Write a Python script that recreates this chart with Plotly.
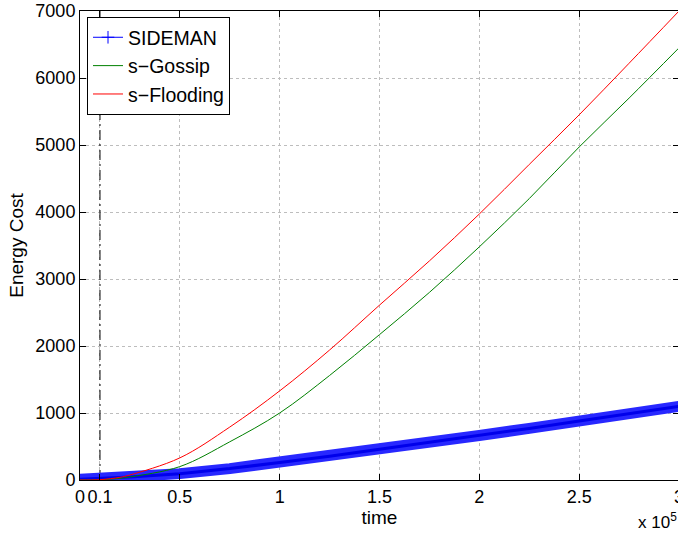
import plotly.graph_objects as go

# ---- data (time in raw units; axis shows x 10^5) ----
time_blue = [0, 25000, 50000, 75000, 100000, 125000, 150000, 175000, 200000, 225000, 250000, 275000, 300000]
sideman = [12, 45, 95, 170, 262, 355, 460, 560, 665, 770, 880, 990, 1100]

time_curves = [0, 10000, 20000, 25000, 50000, 75000, 100000, 125000, 150000, 175000, 200000, 225000, 250000, 275000, 300000]
s_gossip = [0, 3, 25, 45, 200, 570, 1000, 1560, 2170, 2800, 3480, 4200, 4970, 5700, 6450]
s_flooding = [0, 5, 40, 75, 330, 790, 1330, 1940, 2610, 3270, 3970, 4710, 5450, 6220, 7000]

threshold_time = 10000

x_tickvals = [0, 10000, 50000, 100000, 150000, 200000, 250000, 300000]
x_ticktext = ["0", "0.1", "0.5", "1", "1.5", "2", "2.5", "3"]
y_tickvals = [0, 1000, 2000, 3000, 4000, 5000, 6000, 7000]

FONT = "Liberation Sans, Arial, Helvetica, sans-serif"

fig = go.Figure()

# threshold line
fig.add_trace(go.Scatter(x=[threshold_time, threshold_time], y=[0, 7000], mode="lines",
                         line=dict(color="black", width=1, dash="10px,4px,2px,4px"),
                         showlegend=False, hoverinfo="skip"))

# SIDEMAN thick band
fig.add_trace(go.Scatter(x=time_blue, y=sideman, mode="lines",
                         line=dict(color="rgb(40,40,255)", width=11),
                         showlegend=False, cliponaxis=False))
fig.add_trace(go.Scatter(x=time_blue, y=sideman, mode="lines",
                         line=dict(color="rgb(0,0,235)", width=3),
                         showlegend=False))

fig.add_trace(go.Scatter(x=time_curves, y=s_gossip, mode="lines", line_shape="spline",
                         line=dict(color="#008000", width=1), showlegend=False))
fig.add_trace(go.Scatter(x=time_curves, y=s_flooding, mode="lines", line_shape="spline",
                         line=dict(color="#ff0000", width=1), showlegend=False))

# legend entries
fig.add_trace(go.Scatter(x=[None], y=[None], mode="lines+markers", name="SIDEMAN",
                         line=dict(color="blue", width=1),
                         marker=dict(symbol="cross-thin", size=9, color="blue",
                                     line=dict(color="blue", width=1))))
fig.add_trace(go.Scatter(x=[None], y=[None], mode="lines", name="s−Gossip",
                         line=dict(color="#008000", width=1)))
fig.add_trace(go.Scatter(x=[None], y=[None], mode="lines", name="s−Flooding",
                         line=dict(color="#ff0000", width=1)))

axis_common = dict(
    showline=True, linecolor="black", linewidth=1, mirror="ticks",
    ticks="inside", ticklen=6, tickcolor="black",
    showgrid=True, gridcolor="#bdbdbd", gridwidth=1, griddash="dot",
    zeroline=False, ticklabeloverflow="allow",
    tickfont=dict(family=FONT, size=18, color="black"),
)

# figure is slightly wider than the window so the right spine sits at the window's edge
fig.update_layout(
    width=685, height=534,
    margin=dict(l=80, r=1, t=11, b=54),
    paper_bgcolor="white", plot_bgcolor="white",
    font=dict(family=FONT, color="black"),
    xaxis=dict(range=[0, 300000], tickvals=x_tickvals, ticktext=x_ticktext,
               title=dict(text="time", font=dict(family=FONT, size=19), standoff=2),
               **axis_common),
    yaxis=dict(range=[0, 7000], tickvals=y_tickvals,
               title=dict(text="Energy Cost", font=dict(family=FONT, size=19), standoff=6),
               **axis_common),
    legend=dict(x=0.0117, y=0.987, xanchor="left", yanchor="top",
                bgcolor="white", bordercolor="black", borderwidth=1,
                font=dict(family=FONT, size=19.5, color="black"),
                tracegroupgap=0),
    annotations=[dict(text="x 10<sup>5</sup>", xref="paper", yref="paper", x=1, y=0,
                      xanchor="right", yanchor="middle", yshift=-41, showarrow=False,
                      font=dict(family=FONT, size=17, color="black"))],
    showlegend=True,
)

# remove the default page margin and clip anything overflowing the window box
fig.write_html(
    "out.html",
    config={"displayModeBar": False},
    post_script=(
        "document.body.style.margin='0px';"
        "document.body.style.overflow='hidden';"
        "document.documentElement.style.overflow='hidden';"
        "document.querySelectorAll('.plotly-graph-div').forEach(function(d){"
        "if(d.parentElement){d.parentElement.style.overflow='hidden';"
        "d.parentElement.style.width='678px';d.parentElement.style.height='534px';}});"
    ),
)
